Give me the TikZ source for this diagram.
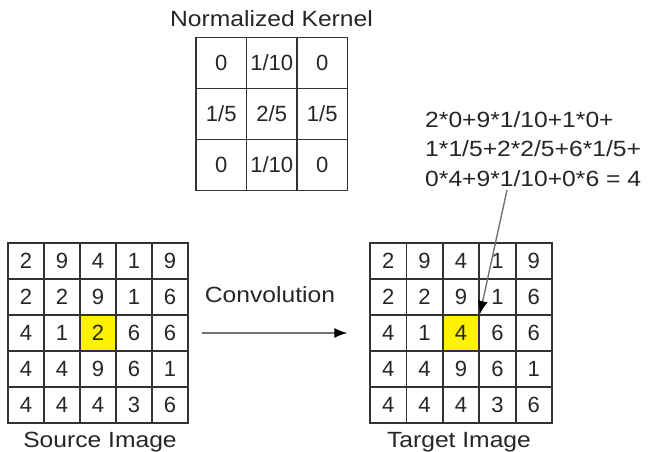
\documentclass[tikz,border=0pt]{standalone}
\usepackage{fontspec}
\setmainfont{Liberation Sans}
\usetikzlibrary{arrows.meta, positioning}

\newcommand{\cellfont}{\fontsize{22}{26}\selectfont}
\newcommand{\lblfont}{\fontsize{22}{29.5}\selectfont}

\tikzset{
  cell/.style={draw=black!80, line width=1.6pt, minimum size=36.2pt,
               inner sep=0pt, font=\cellfont, text=black!85},
  kcell/.style={cell, minimum width=50.5pt, minimum height=51pt},
  hot/.style={fill=yellow},
  lbl/.style={font=\lblfont, text=black!85, inner sep=0pt, xscale=1.12},
  flow/.style={draw=black!55, line width=1.6pt,
               -{Latex[length=13pt, width=10pt, fill=black, color=black]}}
}

\begin{document}
\begin{tikzpicture}[x=1pt, y=-1pt]
  \useasboundingbox (0,0) rectangle (649,452);

  % Kernel
  \node[lbl, anchor=base] (ktitle) at (271.5,27) {Normalized Kernel};
  \foreach \row [count=\r] in {{0,1/10,0},{1/5,2/5,1/5},{0,1/10,0}}
    \foreach \v [count=\c] in \row
      \node[kcell] (k-\r-\c) at ({196+50.5*(\c-0.5)},{37.5+51*(\r-0.5)}) {\v};

  % Source image
  \foreach \row [count=\r] in {{2,9,4,1,9},{2,2,9,1,6},{4,1,2,6,6},{4,4,9,6,1},{4,4,4,3,6}}
    \foreach \v [count=\c] in \row
      \node[cell] (src-\r-\c) at ({8+36*(\c-0.5)},{243+36*(\r-0.5)}) {\v};
  \node[cell, hot] at (src-3-3) {2};
  \node[lbl, anchor=base] (srclbl) at (100,447) {Source Image};

  % Target image
  \foreach \row [count=\r] in {{2,9,4,1,9},{2,2,9,1,6},{4,1,2,6,6},{4,4,9,6,1},{4,4,4,3,6}}
    \foreach \v [count=\c] in \row
      \node[cell] (tgt-\r-\c) at ({370+36.4*(\c-0.5)},{243+36*(\r-0.5)}) {\v};
  \node[cell, hot] at (tgt-3-3) {4};
  \node[lbl, anchor=base] (tgtlbl) at (459,447) {Target Image};

  % Convolution step
  \node[lbl, anchor=base] (conv) at (270,302) {Convolution};
  \draw[flow] ([xshift=13pt]src-3-5.east) -- ([xshift=-22pt]tgt-3-1.west);

  % Weighted sum for the centre pixel
  \node[lbl, anchor=north west, align=left] (sum) at (425,111)
    {2*0+9*1/10+1*0+\\1*1/5+2*2/5+6*1/5+\\0*4+9*1/10+0*6 = 4};
  \coordinate (sumtail) at (507,190);
  \draw[flow, line width=1.4pt] (sumtail) -- (tgt-3-3.north east);
\end{tikzpicture}
\end{document}
